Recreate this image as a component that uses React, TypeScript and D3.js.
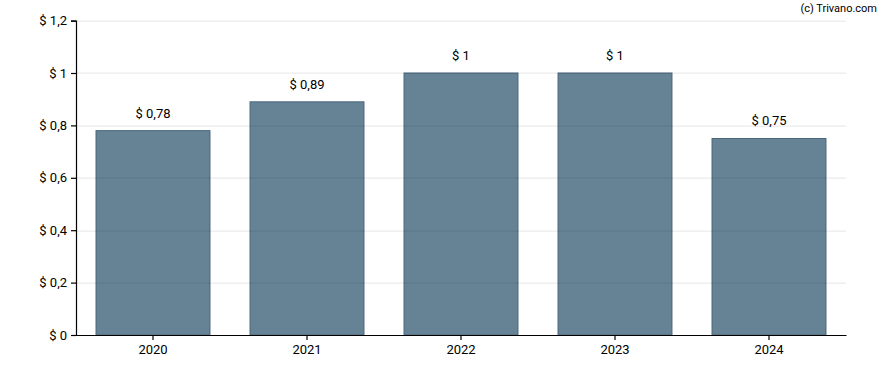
import React, { useEffect, useRef } from "react";
import * as d3 from "d3";

const years = ["2020", "2021", "2022", "2023", "2024"];
const dividends = [0.78, 0.89, 1, 1, 0.75];
const yTicks = [0, 0.2, 0.4, 0.6, 0.8, 1, 1.2];

const fmt = (v: number) => "$ " + String(+v.toFixed(2)).replace(".", ",");

const App: React.FC = () => {
  const svgRef = useRef<SVGSVGElement>(null);

  useEffect(() => {
    if (!svgRef.current) return;
    const root = d3.select(svgRef.current);
    root.selectAll("*").remove();

    const W = 888;
    const H = 370;
    const margin = { top: 20.6, right: 42, bottom: 35, left: 76 };
    const width = W - margin.left - margin.right;
    const height = H - margin.top - margin.bottom;

    root.attr("width", W).attr("height", H);
    const font = "Roboto, 'Noto Sans', sans-serif";

    const g = root
      .append("g")
      .attr("transform", `translate(${margin.left},${margin.top})`);

    const x = d3
      .scaleBand<string>()
      .domain(years)
      .range([0, width])
      .paddingInner(0.26)
      .paddingOuter(0.13);

    const y = d3.scaleLinear().domain([0, 1.2]).range([height, 0]);

    // Bars
    g.selectAll("rect.bar")
      .data(dividends)
      .enter()
      .append("rect")
      .attr("class", "bar")
      .attr("x", (_, i) => x(years[i]) || 0)
      .attr("y", (d) => y(d))
      .attr("width", x.bandwidth())
      .attr("height", (d) => height - y(d))
      .attr("fill", "#668396")
      .attr("stroke", "#4b677c")
      .attr("stroke-width", 1);

    // Gridlines (drawn over bars, faint)
    g.selectAll("line.grid")
      .data(yTicks.filter((t) => t > 0))
      .enter()
      .append("line")
      .attr("class", "grid")
      .attr("x1", 0)
      .attr("x2", width)
      .attr("y1", (d) => Math.round(y(d)) + 0.5)
      .attr("y2", (d) => Math.round(y(d)) + 0.5)
      .attr("stroke", "rgba(0,0,0,0.1)")
      .attr("stroke-width", 1);

    // Y axis
    const yAxis = g
      .append("g")
      .call(
        d3
          .axisLeft(y)
          .tickValues(yTicks)
          .tickSize(5)
          .tickPadding(4)
          .tickFormat((d) => fmt(d as number))
      );
    yAxis.select(".domain").attr("stroke", "#000").attr("stroke-width", 1.2);
    yAxis.selectAll(".tick line").attr("stroke", "#000").attr("stroke-width", 1.2);
    yAxis
      .selectAll("text")
      .attr("fill", "#000")
      .style("font-family", font)
      .style("font-size", "13px");

    // X axis
    const xAxis = g
      .append("g")
      .attr("transform", `translate(0,${height})`)
      .call(d3.axisBottom(x).tickSize(5).tickSizeOuter(0).tickPadding(5));
    xAxis.select(".domain").attr("stroke", "#000").attr("stroke-width", 1.2);
    xAxis.selectAll(".tick line").attr("stroke", "#000").attr("stroke-width", 1.2);
    xAxis
      .selectAll("text")
      .attr("fill", "#000")
      .style("font-family", font)
      .style("font-size", "13px");

    // Value labels
    g.selectAll("text.val")
      .data(dividends)
      .enter()
      .append("text")
      .attr("class", "val")
      .attr("x", (_, i) => (x(years[i]) || 0) + x.bandwidth() / 2)
      .attr("y", (d) => y(d) - 13)
      .attr("text-anchor", "middle")
      .style("font-family", font)
      .style("font-size", "13px")
      .attr("fill", "#000")
      .text((d) => fmt(d));

    // Credit
    root
      .append("text")
      .attr("x", 877)
      .attr("y", 12)
      .attr("text-anchor", "end")
      .style("font-family", font)
      .style("font-size", "11px")
      .attr("fill", "#000")
      .text("(c) Trivano.com");
  }, []);

  return (
    <div style={{ position: "absolute", left: 0, top: 0 }}>
      <svg ref={svgRef} style={{ display: "block" }}></svg>
    </div>
  );
};

export default App;
